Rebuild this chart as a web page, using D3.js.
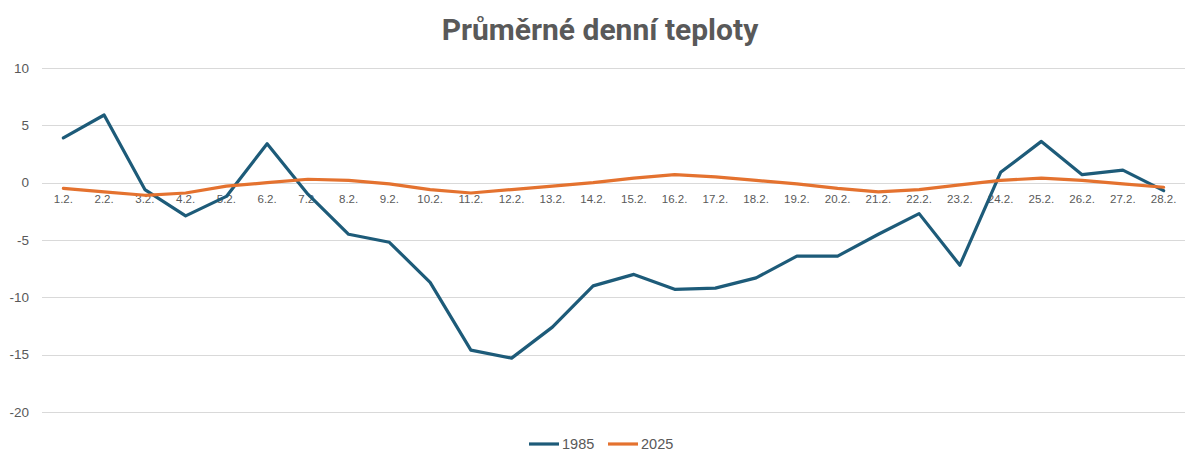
<!DOCTYPE html>
<html>
<head>
<meta charset="utf-8">
<script src="https://cdn.jsdelivr.net/npm/d3@7"></script>
<style>
  body { margin: 0; background: #fff; }
  text { font-family: "Liberation Sans", Arial, sans-serif; fill: #595959; }
</style>
</head>
<body>
<script>
// data
var days = ["1.2.", "2.2.", "3.2.", "4.2.", "5.2.", "6.2.", "7.2.", "8.2.", "9.2.", "10.2.",
            "11.2.", "12.2.", "13.2.", "14.2.", "15.2.", "16.2.", "17.2.", "18.2.", "19.2.", "20.2.",
            "21.2.", "22.2.", "23.2.", "24.2.", "25.2.", "26.2.", "27.2.", "28.2."];
var temps1985 = [3.9, 5.9, -0.6, -2.9, -1.2, 3.4, -1.0, -4.5, -5.2, -8.7,
                 -14.6, -15.3, -12.6, -9.0, -8.0, -9.3, -9.2, -8.3, -6.4, -6.4,
                 -4.5, -2.7, -7.2, 0.9, 3.6, 0.7, 1.1, -0.7];
var temps2025 = [-0.5, -0.8, -1.1, -0.9, -0.3, 0.0, 0.3, 0.2, -0.1, -0.6,
                 -0.9, -0.6, -0.3, 0.0, 0.4, 0.7, 0.5, 0.2, -0.1, -0.5,
                 -0.8, -0.6, -0.2, 0.2, 0.4, 0.2, -0.1, -0.4];
var yTicks = [10, 5, 0, -5, -10, -15, -20];
var seriesNames = ["1985", "2025"];
var seriesColors = ["#1d5b79", "#e4722f"];

var width = 1200, height = 463;

var svg = d3.select("body").append("svg")
            .attr("width", width)
            .attr("height", height);

var x = d3.scaleBand()
          .domain(days)
          .range([43, 1184]);

var y = d3.scaleLinear()
          .domain([-20, 10])
          .range([412, 68]);

// gridlines
svg.append("g").selectAll("line")
   .data(yTicks)
   .enter()
   .append("line")
   .attr("x1", 42)
   .attr("x2", 1185)
   .attr("y1", function (d) { return Math.round(y(d)) + 0.5; })
   .attr("y2", function (d) { return Math.round(y(d)) + 0.5; })
   .attr("stroke", "#d9d9d9")
   .attr("stroke-width", 1);

// y labels
svg.append("g").selectAll("text")
   .data(yTicks)
   .enter()
   .append("text")
   .attr("x", 29)
   .attr("y", function (d) { return y(d); })
   .attr("dy", "0.35em")
   .attr("text-anchor", "end")
   .style("font-size", "13.5px")
   .text(function (d) { return d; });

// category labels just under the zero line
svg.append("g").selectAll("text")
   .data(days)
   .enter()
   .append("text")
   .attr("x", function (d) { return x(d) + x.bandwidth() / 2; })
   .attr("y", y(0) + 20)
   .attr("text-anchor", "middle")
   .style("font-size", "11.5px")
   .text(function (d) { return d; });

var line = d3.line()
             .x(function (d, i) { return x(days[i]) + x.bandwidth() / 2; })
             .y(function (d) { return y(d); });

var allSeries = [temps1985, temps2025];

allSeries.forEach(function (s, i) {
  svg.append("path")
     .datum(s)
     .attr("fill", "none")
     .attr("stroke", seriesColors[i])
     .attr("stroke-width", 3.2)
     .attr("stroke-linejoin", "round")
     .attr("stroke-linecap", "round")
     .attr("d", line);
});

// title
svg.append("text")
   .attr("x", 600)
   .attr("y", 40)
   .attr("text-anchor", "middle")
   .style("font-family", "'Liberation Sans Narrow', 'Roboto', sans-serif")
   .style("font-weight", "bold")
   .style("font-size", "30px")
   .text("Průměrné denní teploty");

// legend
var legendX = [529, 608];
seriesNames.forEach(function (name, i) {
  svg.append("line")
     .attr("x1", legendX[i])
     .attr("x2", legendX[i] + 30)
     .attr("y1", 444)
     .attr("y2", 444)
     .attr("stroke", seriesColors[i])
     .attr("stroke-width", 3.2);
  svg.append("text")
     .attr("x", legendX[i] + 33)
     .attr("y", 444)
     .attr("dy", "0.35em")
     .style("font-size", "14.5px")
     .text(name);
});
</script>
</body>
</html>
